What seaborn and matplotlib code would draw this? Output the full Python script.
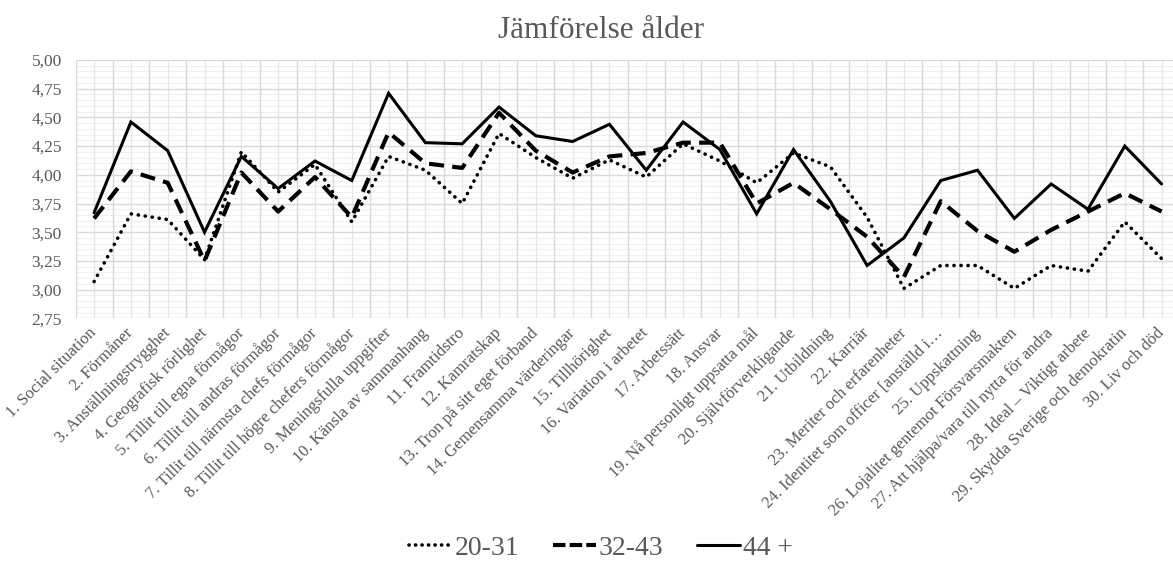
import matplotlib
matplotlib.use("Agg")
import matplotlib.pyplot as plt
from matplotlib.lines import Line2D
from matplotlib.ticker import MultipleLocator, FuncFormatter
import numpy as np
import pandas as pd
import seaborn as sns

categories = [
    "1. Social situation",
    "2. Förmåner",
    "3. Anställningstrygghet",
    "4. Geografisk rörlighet",
    "5. Tillit till egna förmågor",
    "6. Tillit till andras förmågor",
    "7. Tillit till närmsta chefs förmågor",
    "8. Tillit till högre chefers förmågor",
    "9. Meningsfulla uppgifter",
    "10. Känsla av sammanhang",
    "11. Framtidstro",
    "12. Kamratskap",
    "13. Tron på sitt eget förband",
    "14. Gemensamma värderingar",
    "15. Tillhörighet",
    "16. Variation i arbetet",
    "17. Arbetssätt",
    "18. Ansvar",
    "19. Nå personligt uppsatta mål",
    "20. Självförverkligande",
    "21. Utbildning",
    "22. Karriär",
    "23. Meriter och erfarenheter",
    "24. Identitet som officer [anställd i…",
    "25. Uppskattning",
    "26. Lojalitet gentemot Försvarsmakten",
    "27. Att hjälpa/vara till nytta för andra",
    "28. Ideal – Viktigt arbete",
    "29. Skydda Sverige och demokratin",
    "30. Liv och död",
]

age_20_31 = [3.07, 3.66, 3.61, 3.26, 4.20, 3.85, 4.09, 3.59, 4.16, 4.04,
             3.75, 4.36, 4.15, 3.97, 4.13, 3.98, 4.27, 4.12, 3.93, 4.19,
             4.07, 3.63, 3.01, 3.21, 3.21, 3.01, 3.21, 3.16, 3.59, 3.27]
age_32_43 = [3.62, 4.03, 3.93, 3.25, 4.02, 3.68, 3.98, 3.63, 4.37, 4.10,
             4.06, 4.54, 4.21, 4.02, 4.16, 4.19, 4.28, 4.28, 3.75, 3.93,
             3.70, 3.46, 3.11, 3.77, 3.51, 3.33, 3.52, 3.68, 3.84, 3.68]
age_44 = [3.67, 4.46, 4.21, 3.50, 4.16, 3.88, 4.12, 3.95, 4.71, 4.28,
          4.27, 4.59, 4.34, 4.29, 4.44, 4.04, 4.46, 4.22, 3.66, 4.22,
          3.77, 3.21, 3.45, 3.95, 4.04, 3.62, 3.92, 3.70, 4.25, 3.92]

series_names = ["20-31", "32-43", "44 +"]
series_values = [age_20_31, age_32_43, age_44]

df = pd.DataFrame({
    "Fråga": categories * len(series_names),
    "Medel": sum(series_values, []),
    "Ålder": [name for name in series_names for _ in categories],
})

sns.set_theme(style="white")
plt.rcParams["font.family"] = ["Liberation Serif", "DejaVu Serif"]

text_grey = "#595959"
W, H = 1173, 563
fig = plt.figure(figsize=(W / 100, H / 100), dpi=100)

# plot area in pixel coordinates (left, top, right, bottom)
left, top, right, bottom = 75.7, 60.0, 1180.0, 318.3
ax = fig.add_axes([left / W, 1 - bottom / H, (right - left) / W, (bottom - top) / H])

line_styles = {
    "20-31": dict(lw=2.6, dashes=(0.05, 1.9), legend_dashes=(0.05, 1.75), cap="round"),
    "32-43": dict(lw=3.0, dashes=(3.6, 2.0), legend_dashes=(3.0, 1.0), cap="butt"),
    "44 +": dict(lw=2.2, dashes=None, legend_dashes=None, cap="butt"),
}

for name in series_names:
    sub = df[df["Ålder"] == name]
    st = line_styles[name]
    sns.lineplot(data=sub, x="Fråga", y="Medel", color="black", lw=st["lw"],
                 ax=ax, sort=False, zorder=3)
    ln = ax.get_lines()[-1]
    if st["dashes"] is not None:
        ln.set_dashes(st["dashes"])
    ln.set_dash_capstyle(st["cap"])
    ln.set_solid_joinstyle("miter")

n = len(categories)
ax.set_xlim(-0.5, n - 0.5)
ax.set_ylim(2.75, 5.00)

# gridlines: major at 0.25 steps, minor at 0.05 steps; verticals at category boundaries and centres
for v in np.arange(2.75, 5.0001, 0.05):
    is_major = abs((v - 2.75) / 0.25 - round((v - 2.75) / 0.25)) < 1e-6
    ax.axhline(v, color="#d9d9d9" if is_major else "#f0f0f0",
               lw=1.0 if is_major else 0.8, zorder=1 if is_major else 0)
for b in np.arange(-0.5, n, 1.0):
    ax.axvline(b, color="#d9d9d9", lw=1.0, zorder=1)
for c in range(n):
    ax.axvline(c, color="#e6e6e6", lw=0.9, zorder=0.5)

for s in ax.spines.values():
    s.set_visible(False)

ax.yaxis.set_major_locator(MultipleLocator(0.25))
ax.yaxis.set_major_formatter(FuncFormatter(lambda v, _: f"{v:.2f}".replace(".", ",")))
ax.tick_params(axis="y", labelsize=12.5, labelcolor=text_grey, length=0, pad=10)
ax.set_xticks(range(n))
ax.set_xticklabels(categories, rotation=45, ha="right", va="center",
                   rotation_mode="anchor", fontsize=12, color=text_grey)
ax.tick_params(axis="x", length=0, pad=9)
ax.set_xlabel("")
ax.set_ylabel("")
ax.grid(False)

fig.text(601 / W, 1 - 31 / H, "Jämförelse ålder", ha="center", va="center",
         fontsize=22.5, color=text_grey)

handles = []
for name in series_names:
    st = line_styles[name]
    h = Line2D([], [], color="black", lw=st["lw"])
    if st["legend_dashes"] is not None:
        h.set_dashes(st["legend_dashes"])
    h.set_dash_capstyle(st["cap"])
    handles.append(h)
leg = fig.legend(handles, series_names, loc="center", bbox_to_anchor=(601 / W, 1 - 548 / H),
                 ncol=3, frameon=False, fontsize=20, handlelength=1.55,
                 handletextpad=0.1, columnspacing=1.2)
for t in leg.get_texts():
    t.set_color(text_grey)

fig.savefig("out.png", dpi=100)
